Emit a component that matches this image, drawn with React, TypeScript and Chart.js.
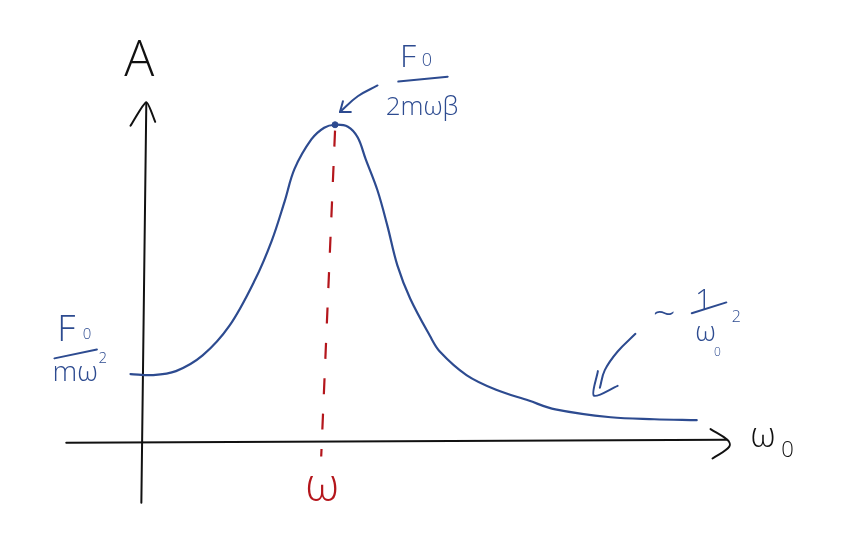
import React, { useEffect, useRef } from "react";
import { Chart, registerables } from "chart.js";

Chart.register(...registerables);

// ---- data (abstract sketch units: origin where the axes cross) ----
const curveX = [-0.13, 0.1, 0.33, 0.6, 0.87, 1.13, 1.3, 1.43, 1.53, 1.7, 1.83, 1.94, 2.07, 2.17, 2.25, 2.37, 2.47, 2.57, 2.7, 2.9, 3.0, 3.27, 3.57, 3.9, 4.17, 4.73, 5.17, 5.6];
const curveY = [0.69, 0.68, 0.72, 0.88, 1.18, 1.65, 2.05, 2.45, 2.78, 3.08, 3.2, 3.23, 3.21, 3.1, 2.88, 2.56, 2.2, 1.8, 1.46, 1.08, 0.92, 0.68, 0.53, 0.42, 0.33, 0.25, 0.23, 0.22];

const peakX = [1.94];
const peakY = [3.23];

const yAxisX = [-0.02, 0.03];
const yAxisY = [-0.62, 3.45];
const yHeadX = [-0.13, 0.03, 0.12];
const yHeadY = [3.22, 3.46, 3.26];

const xAxisX = [-0.78, 5.9];
const xAxisY = [-0.01, 0.02];
const xHeadX = [5.74, 5.91, 5.93, 5.76];
const xHeadY = [0.13, 0.02, -0.05, -0.17];

const resLineX = [1.94, 1.8];
const resLineY = [3.17, -0.15];

const peakArrowX = [2.37, 2.17, 1.99];
const peakArrowY = [3.63, 3.52, 3.36];
const peakHeadX = [2.02, 1.99, 2.1];
const peakHeadY = [3.47, 3.36, 3.36];

const tailArrowX = [4.98, 4.8, 4.67, 4.62];
const tailArrowY = [1.1, 0.92, 0.73, 0.55];
const tailHeadX = [4.6, 4.56, 4.8];
const tailHeadY = [0.72, 0.47, 0.57];

const barTopX = [2.58, 3.08];
const barTopY = [3.67, 3.72];
const barLeftX = [-0.9, -0.47];
const barLeftY = [0.85, 0.94];
const barRightX = [5.55, 5.9];
const barRightY = [1.31, 1.42];

// ---- text labels ----
const labelTexts = ["A", "F", "0", "2mωβ", "F", "0", "mω", "2", "~", "1", "ω", "0", "2", "ω", "0", "ω"];
const labelX = [-0.04, 2.68, 2.87, 2.82, -0.78, -0.57, -0.69, -0.41, 5.27, 5.67, 5.69, 5.81, 6.0, 6.27, 6.52, 1.81];
const labelY = [3.73, 3.82, 3.83, 3.33, 1.03, 1.05, 0.62, 0.8, 1.29, 1.34, 1.03, 0.87, 1.22, -0.05, -0.15, -0.6];

const BLUE = "#2d4b90";
const RED = "#b4161c";
const BLACK = "#111111";
const labelStyle = [
  { size: 50, color: BLACK, base: "alphabetic" },
  { size: 32, color: BLUE, base: "alphabetic" },
  { size: 18, color: BLUE, base: "alphabetic" },
  { size: 26, color: BLUE, base: "alphabetic" },
  { size: 36, color: BLUE, base: "alphabetic" },
  { size: 15, color: BLUE, base: "alphabetic" },
  { size: 28, color: BLUE, base: "alphabetic" },
  { size: 15, color: BLUE, base: "alphabetic" },
  { size: 40, color: BLUE, base: "middle" },
  { size: 30, color: BLUE, base: "alphabetic" },
  { size: 28, color: BLUE, base: "alphabetic" },
  { size: 12, color: BLUE, base: "alphabetic" },
  { size: 16, color: BLUE, base: "alphabetic" },
  { size: 34, color: BLACK, base: "alphabetic" },
  { size: 22, color: BLACK, base: "alphabetic" },
  { size: 46, color: RED, base: "alphabetic" },
];

const pts = (xs: number[], ys: number[]) => xs.map((x, i) => ({ x, y: ys[i] }));

const line = (xs: number[], ys: number[], color: string, width: number, extra: any = {}) => ({
  data: pts(xs, ys),
  borderColor: color,
  backgroundColor: color,
  borderWidth: width,
  pointRadius: 0,
  showLine: true,
  fill: false,
  borderCapStyle: "round",
  borderJoinStyle: "round",
  ...extra,
});

const labelPlugin = {
  id: "sketchLabels",
  afterDatasetsDraw(chart: any) {
    const { ctx, scales } = chart;
    ctx.save();
    ctx.textAlign = "center";
    labelTexts.forEach((t, i) => {
      const st = labelStyle[i];
      ctx.font = `300 ${st.size}px "Open Sans", "DejaVu Sans", sans-serif`;
      ctx.fillStyle = st.color;
      ctx.textBaseline = st.base;
      ctx.fillText(t, scales.x.getPixelForValue(labelX[i]), scales.y.getPixelForValue(labelY[i]));
    });
    ctx.restore();
  },
};

export default function App() {
  const ref = useRef<HTMLCanvasElement | null>(null);

  useEffect(() => {
    if (!ref.current) return;
    const chart = new Chart(ref.current, {
      type: "scatter",
      data: {
        datasets: [
          line(curveX, curveY, BLUE, 2.2, { tension: 0.35 }),
          line(yAxisX, yAxisY, BLACK, 2),
          line(yHeadX, yHeadY, BLACK, 2, { tension: 0.2 }),
          line(xAxisX, xAxisY, BLACK, 2),
          line(xHeadX, xHeadY, BLACK, 2, { tension: 0.4 }),
          line(resLineX, resLineY, RED, 2.2, { borderDash: [16, 19.4], borderCapStyle: "butt" }),
          line(peakArrowX, peakArrowY, BLUE, 2, { tension: 0.4 }),
          line(peakHeadX, peakHeadY, BLUE, 2),
          line(tailArrowX, tailArrowY, BLUE, 2, { tension: 0.4 }),
          line(tailHeadX, tailHeadY, BLUE, 2, { tension: 0.3 }),
          line(barTopX, barTopY, BLUE, 2),
          line(barLeftX, barLeftY, BLUE, 2),
          line(barRightX, barRightY, BLUE, 2),
          {
            data: pts(peakX, peakY),
            backgroundColor: BLUE,
            borderColor: BLUE,
            pointRadius: 3,
            showLine: false,
          },
        ] as any,
      },
      options: {
        animation: false,
        responsive: false,
        maintainAspectRatio: false,
        layout: { padding: 0 },
        plugins: { legend: { display: false }, tooltip: { enabled: false } },
        scales: {
          x: { type: "linear", min: -1.4, max: 7.03, display: false },
          y: { type: "linear", min: -0.98, max: 4.45, display: false },
        },
      },
      plugins: [labelPlugin],
    });
    return () => chart.destroy();
  }, []);

  return (
    <div style={{ position: "absolute", left: 0, top: 0, width: 843, height: 543, background: "#ffffff" }}>
      <canvas ref={ref} width={843} height={543} style={{ display: "block" }} />
    </div>
  );
}
